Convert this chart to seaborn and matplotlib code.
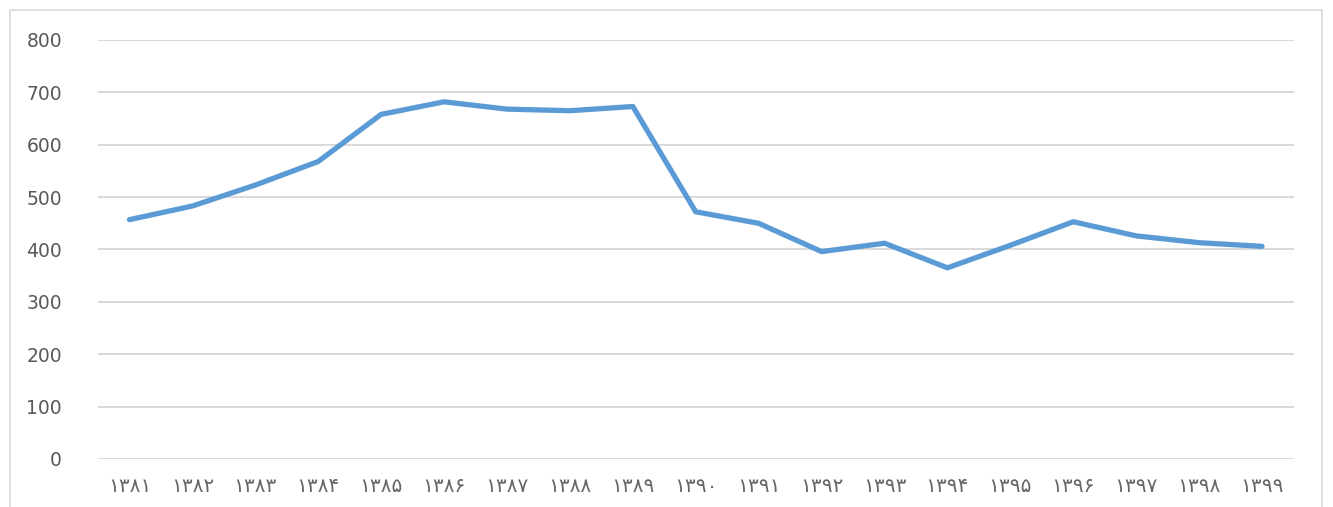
import matplotlib
matplotlib.use("Agg")
import matplotlib.pyplot as plt
import seaborn as sns
import pandas as pd
from matplotlib.patches import Rectangle

years = ["۱۳۸۱", "۱۳۸۲", "۱۳۸۳", "۱۳۸۴", "۱۳۸۵", "۱۳۸۶", "۱۳۸۷", "۱۳۸۸", "۱۳۸۹", "۱۳۹۰",
         "۱۳۹۱", "۱۳۹۲", "۱۳۹۳", "۱۳۹۴", "۱۳۹۵", "۱۳۹۶", "۱۳۹۷", "۱۳۹۸", "۱۳۹۹"]
values = [457, 483, 523, 568, 658, 682, 668, 665, 673, 472,
          450, 396, 412, 365, 408, 453, 426, 413, 406]
yticks = [0, 100, 200, 300, 400, 500, 600, 700, 800]

sns.set_theme(style="white")
plt.rcParams['font.family'] = ['DejaVu Sans']

fig = plt.figure(figsize=(13.33, 5.07), dpi=100)
ax = fig.add_axes([98/1333, 1 - 459/507, (1293.5 - 98)/1333, (459 - 40)/507])

df = pd.DataFrame({"year": years, "value": values})
sns.lineplot(data=df, x="year", y="value", ax=ax, color="#5B9BD5", linewidth=3.8,
             solid_capstyle="round", solid_joinstyle="round", sort=False)

ax.set_xlim(-0.5, len(years) - 0.5)
ax.set_ylim(0, 800)
ax.set_yticks(yticks)
ax.set_yticklabels([str(v) for v in yticks])
ax.set_xlabel("")
ax.set_ylabel("")
ax.yaxis.grid(True, color="#D9D9D9", linewidth=1.4)
ax.xaxis.grid(False)
ax.set_axisbelow(True)
for s in ax.spines.values():
    s.set_visible(False)
ax.tick_params(axis="y", length=0, pad=26, labelsize=13.5, labelcolor="#595959")
ax.tick_params(axis="x", length=0, pad=13, labelsize=14.5, labelcolor="#666666")

fig.patches.append(Rectangle((10/1333, -0.01), (1322 - 10)/1333, 1 - 10/507 + 0.01,
                             transform=fig.transFigure, fill=False,
                             edgecolor="#D9D9D9", linewidth=1.2))

fig.savefig("out.png", dpi=100, facecolor="white")
